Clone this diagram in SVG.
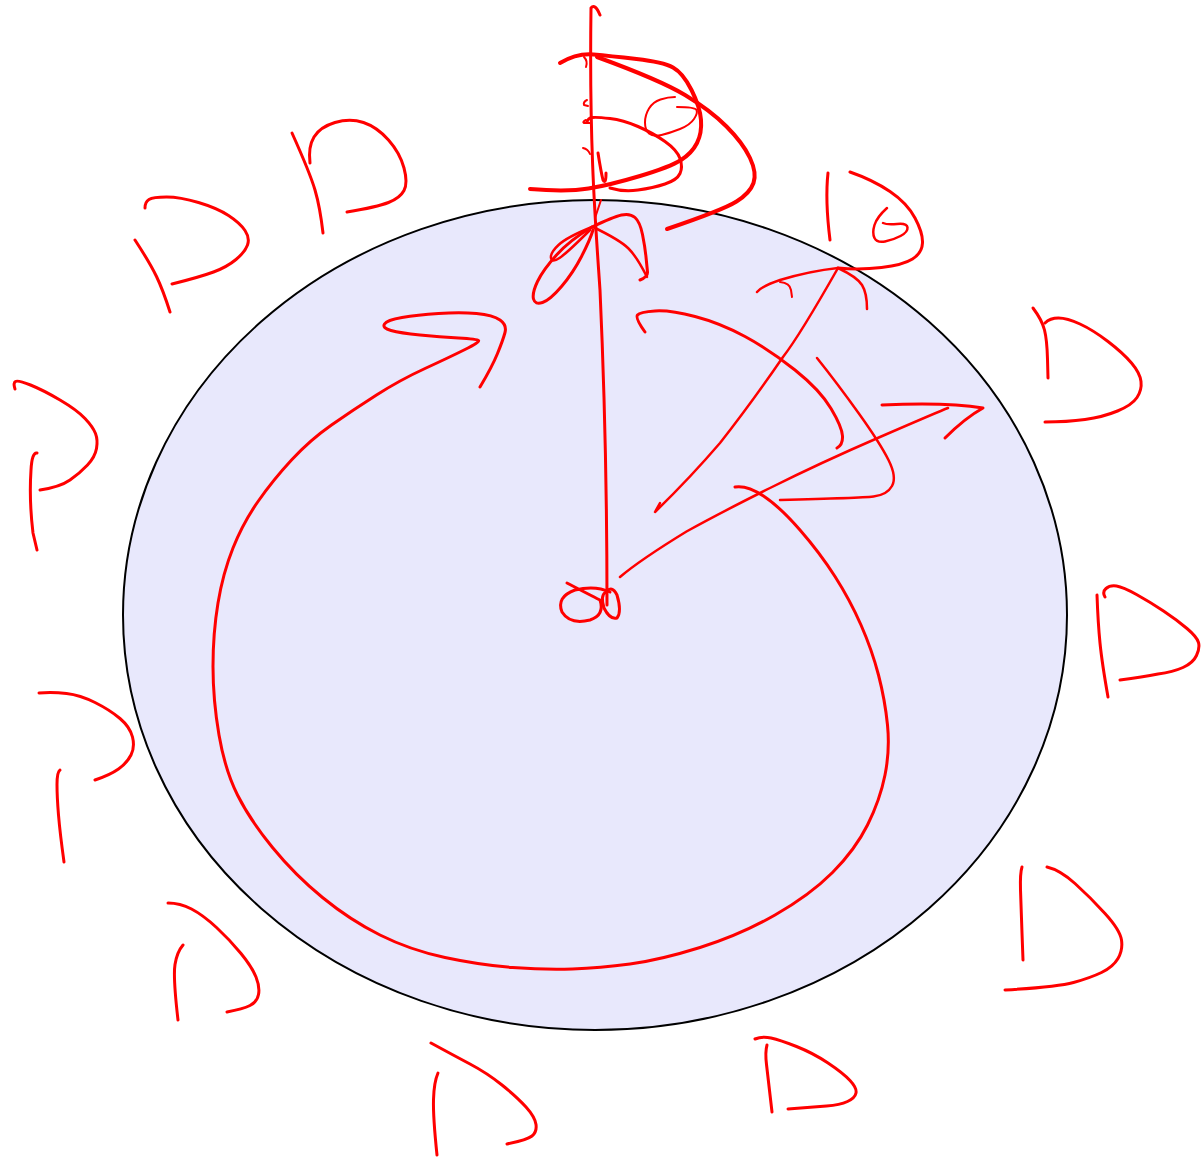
<svg xmlns="http://www.w3.org/2000/svg" width="1201" height="1160" viewBox="0 0 1201 1160">
<style>
.s{fill:none;stroke:#ff0000;stroke-linecap:round;stroke-linejoin:round}
.w2{stroke-width:2}
.w25{stroke-width:2.5}
.w3{stroke-width:3}
.w4{stroke-width:4}
</style>
<rect width="1201" height="1160" fill="#ffffff"/>
<g id="disc">
<ellipse cx="595" cy="615" rx="472" ry="415" fill="#e8e8fc" stroke="#000000" stroke-width="2"/>
</g>
<g id="outer-letters" class="s w3">
<path d="M292,133 Q310,173 315,190 Q320,207 323,233"/>
<path d="M310,163 Q308,147 314,137 Q320,127 335,122.5 Q350,118 363.5,122.5 Q377,127 388.5,140 Q400,153 404,168 Q408,183 404,190.5 Q400,198 388.5,202.5 Q377,207 347,212"/>
<path d="M135,240 Q150,263 156.5,276.5 Q163,290 170,312"/>
<path d="M145,208 Q145,202 149,199.5 Q153,197 166.5,197 Q180,197 198.5,202.5 Q217,208 228.5,215.5 Q240,223 245,230.5 Q250,238 247.5,245 Q245,252 236,259.5 Q227,267 213.5,272 Q200,277 172,284"/>
<path d="M15,389 Q13,383 15.5,381.5 Q18,380 30.5,385 Q43,390 60,400 Q77,410 85,418.5 Q93,427 95.5,433.5 Q98,440 96.5,448.5 Q95,457 87.5,465 Q80,473 70,480 Q60,487 40,490"/>
<path d="M37,453 Q32,452 31,470 Q29,500 33,533 L37,550"/>
<path d="M1033,308 Q1042,320 1044.5,330 Q1047,340 1047.5,359 L1048,378"/>
<path d="M1045,323 Q1050,318 1058.5,318 Q1067,318 1080,324 Q1093,330 1108,341.5 Q1123,353 1131.5,363 Q1140,373 1141,381.5 Q1142,390 1137,397.5 Q1132,405 1117.5,411 Q1103,417 1085,419.5 Q1067,422 1045,422"/>
<path d="M1097,595 Q1098,623 1100,643 Q1102,663 1108,697"/>
<path d="M1105,597 Q1102,592 1106,588.5 Q1110,585 1116.5,586 Q1123,587 1136.5,594.5 Q1150,602 1163.5,611 Q1177,620 1187,628.5 Q1197,637 1198.5,642.5 Q1200,648 1196.5,655.5 Q1193,663 1183,667.5 Q1173,672 1158,674 Q1143,677 1120,680"/>
<path d="M1022,867 Q1020,873 1020.5,890 Q1021,907 1022,933 L1023,960"/>
<path d="M1047,867 Q1060,870 1075,883.5 Q1090,897 1105,913.5 Q1120,930 1121.5,940 Q1123,950 1118,958.5 Q1113,967 1101.5,972.5 Q1090,978 1073.5,982.5 Q1057,987 1005,990"/>
<path d="M755,1039 Q762,1036 771,1038 Q780,1040 796.5,1046.5 Q813,1053 828,1063 Q843,1073 850,1080.5 Q857,1088 856,1093 Q855,1098 847.5,1101.5 Q840,1105 826.5,1106 Q813,1107 788,1109"/>
<path d="M767,1045 Q765,1052 766.5,1064.5 Q768,1077 772,1112"/>
<path d="M431,1043 Q453,1055 470,1064 Q487,1073 502,1085 Q517,1097 526,1107 Q535,1117 536,1124.5 Q537,1132 532,1136 Q527,1140 507,1144"/>
<path d="M438,1073 Q434,1082 433.5,1099.5 Q433,1117 437,1155"/>
<path d="M168,903 Q180,903 191.5,909 Q203,915 216.5,927.5 Q230,940 241,953.5 Q252,967 256,977 Q260,987 258.5,994.5 Q257,1002 250,1005.5 Q243,1009 227,1012"/>
<path d="M183,945 Q177,952 175,964.5 Q173,977 178,1020"/>
<path d="M39,693 Q53,692 66.5,693.5 Q80,695 95,702.5 Q110,710 120,718.5 Q130,727 132.5,737 Q135,747 131,755 Q127,763 118.5,769 Q110,775 95,780"/>
<path d="M60,770 Q57,772 57,784.5 Q57,797 58.5,815 Q60,833 64,862"/>
<path d="M828,173 Q825,200 830,240"/>
<path class="w25" d="M887,208 Q877,217 874.5,225 Q872,233 874.5,238 Q877,243 885,241.5 Q893,240 900.5,236 Q908,232 907.5,227.5 Q907,223 897,224 Q887,225 883,223"/>
<path d="M850,172 Q873,180 890,191.5 Q907,203 915,218 Q923,233 922.5,243 Q922,253 912.5,259 Q903,265 881.5,267.5 Q860,270 838,268"/>
</g>
<g id="top-figure" class="s">
<path class="w3" d="M600,15 Q595,3 591,8 C589,150 596,230 600,290 C605,400 607,500 607,605"/>
<path class="w4" d="M560,63 Q577,53 593.5,54.5 Q610,56 636.5,59 Q663,62 673,67.5 Q683,73 691.5,90 Q700,107 701,120 Q702,133 697,143 Q692,153 681,160 Q670,167 640,176 Q610,185 588.5,188.5 Q567,192 530,189"/>
<path class="w4" d="M597,57 Q660,80 685,95 Q710,110 726.5,126.5 Q743,143 750,158 Q757,173 753.5,183 Q750,193 736.5,201.5 Q723,210 667,229"/>
<path class="w2" d="M675,97 Q668,97 660.5,99.5 Q653,102 649,108.5 Q645,115 645,122.5 Q645,130 649,133.5 Q653,137 661.5,135 Q670,133 680,129 Q690,125 694,119 Q698,113 696.5,110 Q695,107 677,107"/>
<path class="w3" d="M587,122 Q588,118 592.5,117.5 Q597,117 610,118.5 Q623,120 638,126.5 Q653,133 665,141.5 Q677,150 680,158.5 Q683,167 680,173.5 Q677,180 665,184 Q653,188 638,190 Q623,192 610,188"/>
<path class="w2" d="M584,57 Q588,61 586,67"/>
<path class="w2" d="M587,100 Q583,102 584,105 L588,106"/>
<path class="w2" d="M586,120 Q582,122 584,123 L590,123"/>
<path class="w2" d="M583,148 Q588,149 590,154"/>
<path class="w3" d="M598,153 Q601,172 603,180 Q606,185 606,173"/>
<path class="w2" d="M601,200 L595,218"/>
<path class="w3" d="M592,227 Q570,240 556.5,255 Q543,270 537.5,281.5 Q532,293 533.5,299 Q535,305 542.5,302.5 Q550,300 561.5,286.5 Q573,273 581.5,256.5 Q590,240 593,230"/>
<path class="w25" d="M592,227 Q567,237 558.5,245 Q550,253 551,258 Q552,263 559.5,258 Q567,253 590,230"/>
<path class="w3" d="M592,227 Q613,217 621.5,215 Q630,213 635,217.5 Q640,222 642.5,234.5 Q645,247 646,257 Q647,267 647.5,272 Q648,277 640,280"/>
<path class="w25" d="M593,227 Q620,240 628.5,248.5 Q637,257 647,277"/>
</g>
<g id="connectors" class="s">
<path class="w25" d="M838,268 Q800,335 783,357 Q750,405 720,443 Q690,478 655,512 L660,503"/>
<path class="w25" d="M757,292 Q762,286 780,280 Q810,271 838,268 Q857,277 862,285 Q867,293 867,309"/>
<path class="w2" d="M780,282 Q790,283 791,290 L792,297"/>
<path class="w3" d="M645,332 Q635,318 637.5,315 Q640,312 655,311 Q670,310 695,316.5 Q720,323 745,336.5 Q770,350 795,370 Q820,390 831,408.5 Q842,427 842.5,436 Q843,445 837,448"/>
<path class="w25" d="M817,358 Q837,383 858.5,413 Q880,443 888.5,460 Q897,477 892,486 Q887,495 873.5,496.5 Q860,498 780,500"/>
<path class="w25" d="M620,577 Q640,560 686.5,531.5 Q720,513 770,488 Q820,463 880,437 Q940,411 948,408"/>
<path class="w3" d="M882,405 Q947,402 983,408 Q965,418 945,438"/>
<path class="w3" d="M735,487 Q747,485 763.5,496 Q780,507 800,530 Q820,553 835,576.5 Q850,600 861,625 Q872,650 878.5,675 Q885,700 887.5,725 Q890,750 885,775 Q880,800 867.5,825 Q855,850 832.5,872.5 Q810,895 775,915 Q740,935 700,947.5 Q660,960 630,964 Q600,968 572.5,969 Q545,970 512.5,967.5 Q480,965 445,957.5 Q410,950 380,935 Q350,920 322.5,897.5 Q295,875 272.5,847.5 Q250,820 237.5,795 Q225,770 219,735 Q213,700 213,666.5 Q213,633 218,603 Q223,573 233,548 Q243,523 258,501.5 Q273,480 291.5,460 Q310,440 331.5,425 Q353,410 376.5,395 Q400,380 425,368.5 Q450,357 465,349.5 Q480,342 478.5,340.5 Q477,339 458.5,338 Q440,337 420,335 Q400,333 391,330.5 Q382,328 384.5,324 Q387,320 402,317.5 Q417,315 438.5,313.5 Q460,312 476.5,313.5 Q493,315 500,320 Q507,325 505,332.5 Q503,340 497.5,353.5 Q492,367 480,387"/>
</g>
<g id="center" class="s w3">
<path d="M567,583 Q590,595 600,600 Q605,615 590,620 Q570,625 562,612 Q556,597 575,590 Q595,585 610,592"/>
<path d="M606,592 Q612,585 617,595 Q622,612 617,618 Q610,620 604,608 Q600,595 606,592"/>
</g>
</svg>
